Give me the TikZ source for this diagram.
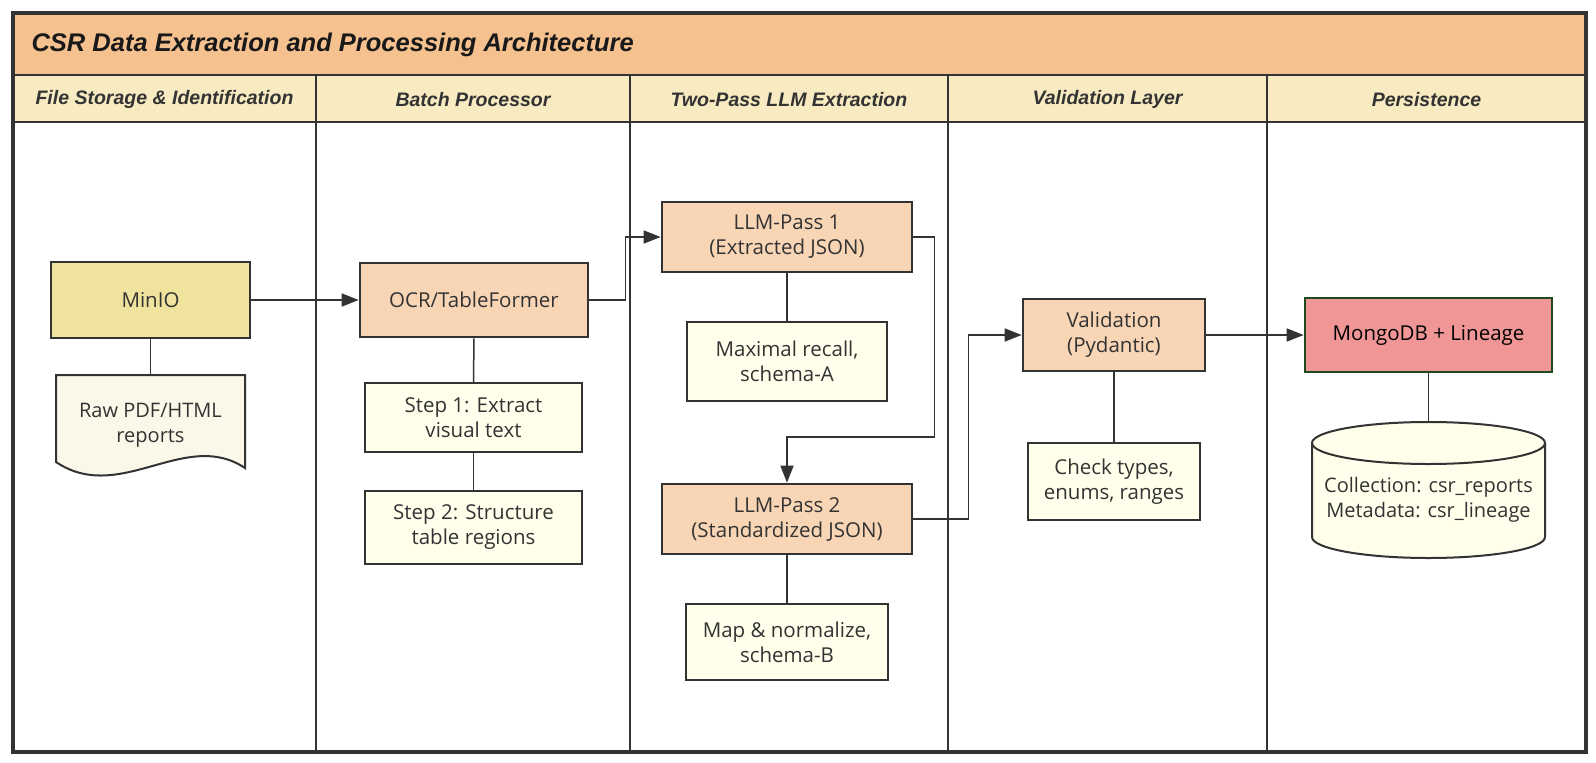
\documentclass[tikz,border=0pt]{standalone}
\usepackage{fontspec}
\setmainfont{Open Sans}
\newfontfamily\headfont{Liberation Sans}
\usetikzlibrary{arrows.meta}

\definecolor{titlebg}{HTML}{F5C18F}
\definecolor{headbg}{HTML}{F8EBC2}
\definecolor{miniofill}{HTML}{F0E39E}
\definecolor{procfill}{HTML}{F8D5B5}
\definecolor{notefill}{HTML}{FFFFEC}
\definecolor{docfill}{HTML}{FBF7E9}
\definecolor{mongofill}{HTML}{F09696}
\definecolor{mongoline}{HTML}{1F4A1F}
\definecolor{linegray}{HTML}{333333}

\begin{document}
\begin{tikzpicture}[x=1pt,y=-1pt,
    box/.style={draw=linegray, line width=2.6pt, align=center, inner sep=0pt,
        text=linegray, font=\fontsize{20.5}{25}\selectfont},
    proc/.style={box, fill=procfill},
    note/.style={box, line width=2.2pt, fill=notefill},
    plain/.style={align=center, inner sep=0pt, text=linegray, font=\fontsize{20}{25}\selectfont},
    link/.style={draw=linegray, line width=1.5pt},
    arrow/.style={link, -{Triangle[length=17pt,width=13pt]}},
    frame/.style={draw=linegray, line width=2.8pt}]
\useasboundingbox (0,0) rectangle (1596,763);

% Bands
\fill[titlebg] (13,13) rectangle (1586,75);
\fill[headbg] (13,75) rectangle (1586,122);
\node[anchor=west, font=\headfont\bfseries\itshape\fontsize{25.5}{30}\selectfont, text=black!90] (title) at (28,45) {CSR Data Extraction and Processing Architecture};

% Lanes
\foreach \x in {316,630,948,1267}
    \draw[frame] (\x,75) -- (\x,752);
\draw[frame] (13,75) -- (1586,75);
\draw[frame] (13,122) -- (1586,122);
\draw[frame, line width=3.2pt] (13,13) rectangle (1586,752);

% Lane headers
\foreach \cx/\txt in {164.5/File Storage \& Identification, 473/Batch Processor,
    789/Two-Pass LLM Extraction, 1107.5/Validation Layer, 1426.5/Persistence}
    \node[font=\headfont\bfseries\itshape\fontsize{19.5}{23}\selectfont, text=linegray] at (\cx,99.5) {\txt};

% File storage
\node[box, fill=miniofill, minimum width=199pt, minimum height=76pt] (minio) at (150.5,300) {MinIO};
\fill[docfill] (56,375) -- (245,375) -- (245,468) .. controls (185,428) and (120,505) .. (56,462) -- cycle;
\draw[linegray, line width=2pt] (56,375) -- (245,375) -- (245,468) .. controls (185,428) and (120,505) .. (56,462) -- cycle;
\node[plain, minimum width=189pt, minimum height=100pt] (rawdoc) at (150.5,425) {Raw PDF/HTML\\reports};

% Batch processor
\node[proc, minimum width=228pt, minimum height=74pt] (ocr) at (474,300) {OCR/TableFormer};
\node[note, minimum width=217pt, minimum height=69pt] (stepone) at (473.5,417.5) {Step 1: Extract\\visual text};
\node[note, minimum width=217pt, minimum height=73pt] (steptwo) at (473.5,527.5) {Step 2: Structure\\table regions};

% Two-pass extraction
\node[proc, minimum width=250pt, minimum height=70pt] (passone) at (787,237) {LLM-Pass 1\\(Extracted JSON)};
\node[note, minimum width=200pt, minimum height=79pt] (recall) at (787,361.5) {Maximal recall,\\schema-A};
\node[proc, minimum width=250pt, minimum height=70pt] (passtwo) at (787,519) {LLM-Pass 2\\(Standardized JSON)};
\node[note, minimum width=202pt, minimum height=76pt] (mapnorm) at (787,642) {Map \& normalize,\\schema-B};

% Validation
\node[proc, minimum width=182pt, minimum height=72pt] (valid) at (1114,335) {Validation\\(Pydantic)};
\node[note, minimum width=172pt, minimum height=77pt] (check) at (1114,481.5) {Check types,\\enums, ranges};

% Persistence
\node[box, fill=mongofill, draw=mongoline, text=black, minimum width=247pt, minimum height=74pt] (mongo) at (1428.5,335) {MongoDB + Lineage};
\fill[notefill] (1312,443) -- (1312,537) arc[start angle=180, end angle=0, x radius=116.5, y radius=21] -- (1545,443) -- cycle;
\filldraw[fill=notefill, draw=linegray, line width=2pt] (1428.5,443) ellipse[x radius=116.5, y radius=21];
\draw[linegray, line width=2pt] (1312,443) -- (1312,537) arc[start angle=180, end angle=0, x radius=116.5, y radius=21] -- (1545,443);
\coordinate (storetop) at (1428.5,422);
\node[plain] (store) at (1428.5,500) {Collection: csr\_reports\\Metadata: csr\_lineage};

% Connectors
\draw[arrow] (minio) -- (ocr);
\draw[arrow] (ocr.east) -- ++(36,0) |- (passone.west);
\draw[arrow] (passone.east) -- ++(21,0) -- ++(0,200) -| (passtwo.north);
\draw[arrow] (passtwo.east) -- ++(55,0) |- (valid.west);
\draw[arrow] (valid) -- (mongo);
\draw[link] (minio) -- (rawdoc);
\draw[link] (ocr) -- (stepone);
\draw[link] (stepone) -- (steptwo);
\draw[link] (passone) -- (recall);
\draw[link] (passtwo) -- (mapnorm);
\draw[link] (valid) -- (check);
\draw[link] (mongo) -- (storetop);
\end{tikzpicture}
\end{document}
